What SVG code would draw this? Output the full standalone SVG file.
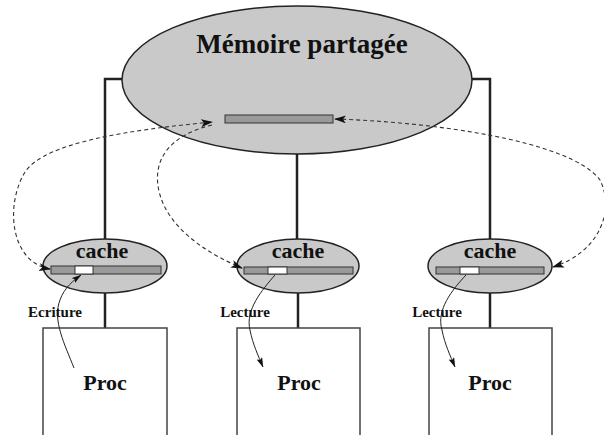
<svg xmlns="http://www.w3.org/2000/svg" width="604" height="435" viewBox="0 0 604 435">
<defs>
<marker id="ah" viewBox="0 0 12 8" refX="11" refY="4" markerWidth="12" markerHeight="8" markerUnits="userSpaceOnUse" orient="auto-start-reverse">
<path d="M0 0 L12 4 L0 8 L3 4 Z" fill="#111"/>
</marker>
<marker id="as" viewBox="0 0 10 6" refX="9.5" refY="3" markerWidth="10" markerHeight="6" markerUnits="userSpaceOnUse" orient="auto">
<path d="M0 0 L10 3 L0 6 L2 3 Z" fill="#111"/>
</marker>
</defs>
<style>
.bg{fill:#fff}
.ell{fill:#c9c9c9;stroke:#222;stroke-width:1.5}
.bar{fill:#9a9a9a;stroke:#333;stroke-width:1}
.wseg{fill:#fff;stroke:#333;stroke-width:1}
.box{fill:#fff;stroke:#444;stroke-width:1.5}
.conn{fill:none;stroke:#222;stroke-width:2.5}
.dash{fill:none;stroke:#333;stroke-width:1.1;stroke-dasharray:4 3}
.solid{fill:none;stroke:#222;stroke-width:1}
.t{font-family:"Liberation Serif","Times New Roman",serif;font-weight:bold;fill:#111;text-anchor:middle}
</style>
<rect class="bg" x="0" y="0" width="604" height="435"/>
<g id="connectors">
<path class="conn" d="M122 79 H105 V240"/>
<path class="conn" d="M472 79 H490 V240"/>
<path class="conn" d="M297 154 V240"/>
<path class="conn" d="M105 293 V328"/>
<path class="conn" d="M298 293 V328"/>
<path class="conn" d="M490 293 V328"/>
</g>
<g id="memoire">
<ellipse class="ell" cx="297" cy="80" rx="175" ry="74"/>
<text class="t" x="302" y="53" font-size="27">Mémoire partagée</text>
<rect class="bar" x="225" y="115" width="108" height="8"/>
</g>
<g id="cache1">
<ellipse class="ell" cx="105" cy="266" rx="62" ry="27"/>
<text class="t" x="102" y="258" font-size="22">cache</text>
<rect class="bar" x="51" y="266" width="110" height="8"/>
<rect class="wseg" x="75" y="266" width="18" height="8"/>
</g>
<g id="cache2">
<ellipse class="ell" cx="298" cy="266" rx="61" ry="27"/>
<text class="t" x="298" y="258" font-size="22">cache</text>
<rect class="bar" x="244" y="267" width="109" height="7"/>
<rect class="wseg" x="268" y="267" width="19" height="7"/>
</g>
<g id="cache3">
<ellipse class="ell" cx="490" cy="266" rx="62" ry="27"/>
<text class="t" x="490" y="258" font-size="22">cache</text>
<rect class="bar" x="436" y="267" width="108" height="7"/>
<rect class="wseg" x="460" y="267" width="19" height="7"/>
</g>
<g id="proc1">
<rect class="box" x="43" y="328" width="124" height="120"/>
<text class="t" x="105" y="390" font-size="22">Proc</text>
</g>
<g id="proc2">
<rect class="box" x="237" y="328" width="123" height="120"/>
<text class="t" x="299" y="390" font-size="22">Proc</text>
</g>
<g id="proc3">
<rect class="box" x="429" y="328" width="123" height="120"/>
<text class="t" x="490" y="390" font-size="22">Proc</text>
</g>
<g id="flows">
<path class="dash" d="M50 269 C10 262, 5 205, 25 172 C45 142, 130 130, 212 122" marker-start="url(#ah)" marker-end="url(#ah)"/>
<path class="dash" d="M212 125 C170 135, 150 160, 160 195 C170 230, 210 255, 242 268" marker-end="url(#ah)"/>
<path class="dash" d="M553 267 C600 252, 615 210, 600 180 C570 140, 430 122, 335 119" marker-start="url(#ah)" marker-end="url(#ah)"/>
<path class="solid" d="M74 368 C65 345, 52 320, 60 300 C64 288, 74 280, 81 275" marker-end="url(#as)"/>
<path class="solid" d="M275 275 C262 290, 245 310, 250 330 C253 345, 258 355, 263 367" marker-end="url(#as)"/>
<path class="solid" d="M466 275 C452 290, 436 310, 442 330 C445 345, 450 355, 455 367" marker-end="url(#as)"/>
</g>
<g id="labels">
<text class="t" x="55" y="317" font-size="15">Ecriture</text>
<text class="t" x="245" y="317" font-size="15">Lecture</text>
<text class="t" x="437" y="317" font-size="15">Lecture</text>
</g>
</svg>
